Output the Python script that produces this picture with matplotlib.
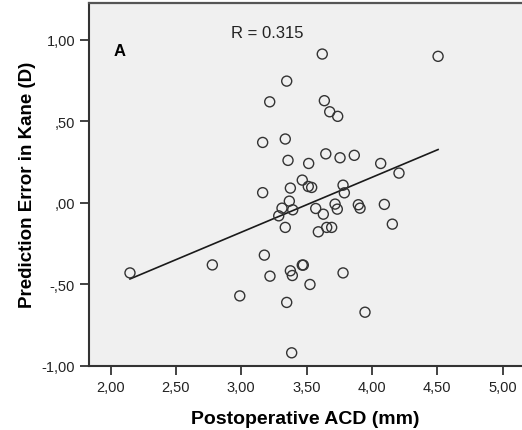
import matplotlib.pyplot as plt
import numpy as np
from matplotlib.ticker import FuncFormatter

plt.rcParams['font.family'] = ['Liberation Sans', 'DejaVu Sans']

# postoperative anterior chamber depth (mm) and Kane prediction error (D)
acd = [3.620, 4.506, 3.348, 3.218, 3.636, 3.677, 3.738, 3.164, 3.337, 3.358,
       3.516, 3.647, 3.756, 3.865, 4.067, 4.207, 3.467, 3.513, 3.539, 3.779,
       3.789, 3.164, 3.376, 3.368, 3.312, 3.394, 3.287, 3.337, 3.570, 3.628,
       3.718, 3.735, 3.896, 3.909, 4.095, 4.156, 3.590, 3.654, 3.692, 3.177,
       2.779, 2.149, 3.376, 3.391, 3.220, 3.467, 3.475, 3.526, 3.779, 2.989,
       3.348, 3.947, 3.386]
pred_err = [0.911, 0.897, 0.745, 0.618, 0.625, 0.557, 0.529, 0.369, 0.390, 0.259,
            0.240, 0.299, 0.275, 0.290, 0.240, 0.181, 0.138, 0.099, 0.093, 0.107,
            0.060, 0.061, 0.089, 0.009, -0.034, -0.044, -0.081, -0.152, -0.036, -0.071,
            -0.009, -0.040, -0.013, -0.034, -0.011, -0.132, -0.179, -0.152, -0.152, -0.322,
            -0.382, -0.431, -0.418, -0.447, -0.451, -0.383, -0.383, -0.502, -0.431, -0.572,
            -0.612, -0.672, -0.921]

x_ticks = [2.0, 2.5, 3.0, 3.5, 4.0, 4.5, 5.0]
y_ticks = [-1.0, -0.5, 0.0, 0.5, 1.0]


def spss_fmt(v, pos=None):
    # SPSS style: comma decimal, no leading zero for |v| < 1
    s = f"{v:.2f}".replace('.', ',')
    if s.startswith('0,'):
        s = s[1:]
    elif s.startswith('-0,'):
        s = '-' + s[2:]
    return s


fig = plt.figure(figsize=(5.22, 4.31), dpi=100)
ax = fig.add_axes([89 / 522, 1 - 366.7 / 431, 1 - 89 / 522, (366.7 - 4) / 431])
ax.set_facecolor('#f0f0f0')

x = np.array(acd)
y = np.array(pred_err)
ax.scatter(x, y, s=52, facecolors='none', edgecolors='#333333', linewidths=1.0, zorder=3)

# least squares fit across the observed range
b, a = np.polyfit(x, y, 1)
xl = np.array([x.min(), x.max()])
ax.plot(xl, a + b * xl, color='#1a1a1a', lw=1.2, zorder=2)

ax.set_xlim(1.8355, 5.148)
ax.set_ylim(-1.0, 1.224)
ax.set_xticks(x_ticks)
ax.set_yticks(y_ticks)
ax.xaxis.set_major_formatter(FuncFormatter(spss_fmt))
ax.yaxis.set_major_formatter(FuncFormatter(spss_fmt))
ax.tick_params(direction='out', length=6.5, width=1.2, labelsize=10.5, colors='#222222')

for side in ['left', 'bottom']:
    ax.spines[side].set_color('#333333')
    ax.spines[side].set_linewidth(1.5)
ax.spines['top'].set_color('#555555')
ax.spines['top'].set_linewidth(1.6)
ax.spines['right'].set_visible(False)

ax.set_xlabel('Postoperative ACD (mm)', fontsize=14, fontweight='bold', labelpad=12)
ax.set_ylabel('Prediction Error in Kane (D)', fontsize=13.5, fontweight='bold', labelpad=4)

ax.text(2.07, 0.93, 'A', fontsize=12, fontweight='bold', va='center', ha='center')
ax.text(3.2, 1.046, 'R = 0.315', fontsize=12, va='center', ha='center', color='#222222')

fig.savefig('out.png', dpi=100, facecolor='white')
